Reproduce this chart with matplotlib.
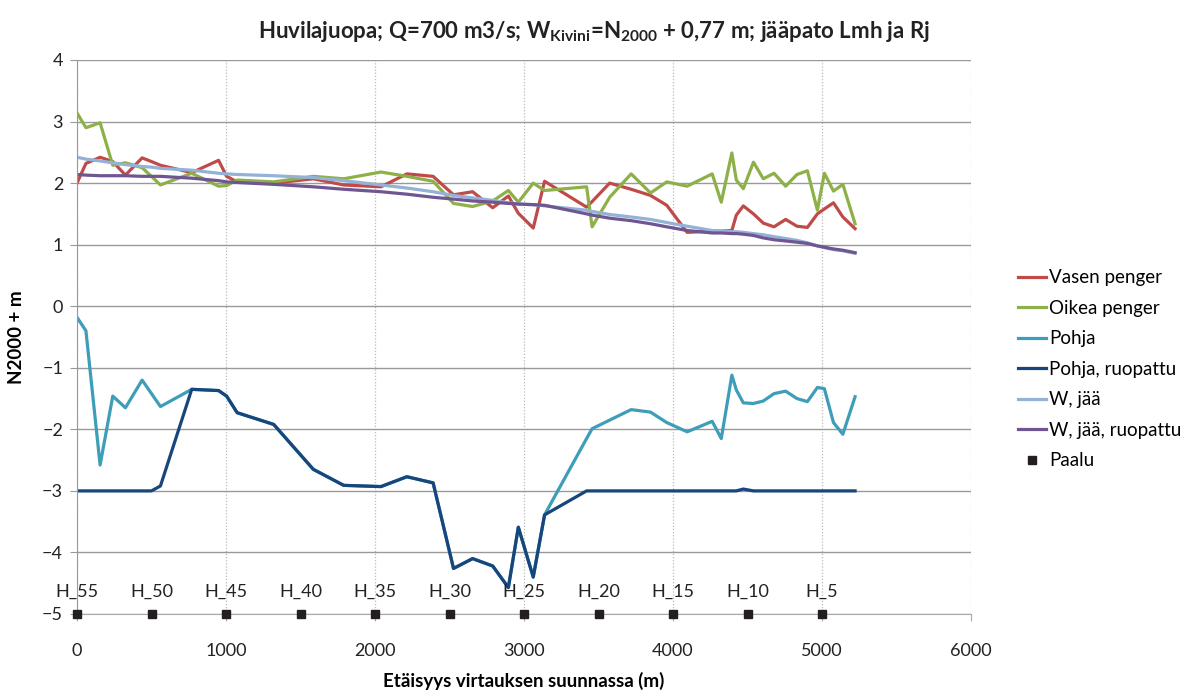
import matplotlib
matplotlib.use("Agg")
import matplotlib.pyplot as plt

plt.rcParams['font.family'] = ['Lato', 'DejaVu Sans']
plt.rcParams['mathtext.fontset'] = 'custom'
plt.rcParams['mathtext.rm'] = 'Lato'
plt.rcParams['mathtext.bf'] = 'Lato:bold'

# Distance along flow (m)
distance = [0, 60, 155, 240, 325, 437, 500, 560, 770, 950, 1004, 1075, 1320, 1586, 1790,
            2040, 2214, 2390, 2527, 2655, 2790, 2895, 2962, 3062, 3138, 3420, 3457, 3575,
            3719, 3849, 3958, 4095, 4263, 4324, 4395, 4425, 4472, 4540, 4606, 4678, 4756,
            4832, 4902, 4969, 5016, 5077, 5140, 5222]

vasen_penger = [2.00, 2.32, 2.42, 2.35, 2.13, 2.41, 2.35, 2.29, 2.17, 2.37, 2.11, 2.02, 2.00,
                2.07, 1.97, 1.94, 2.15, 2.11, 1.81, 1.86, 1.60, 1.79, 1.51, 1.27, 2.03, 1.61,
                1.70, 2.00, 1.90, 1.80, 1.64, 1.20, 1.22, 1.22, 1.23, 1.48, 1.63, 1.50, 1.35,
                1.29, 1.41, 1.30, 1.28, 1.50, 1.58, 1.68, 1.45, 1.26]

oikea_penger = [3.14, 2.90, 2.98, 2.29, 2.33, 2.25, 2.11, 1.97, 2.16, 1.95, 1.96, 2.05, 2.02,
                2.11, 2.07, 2.18, 2.11, 2.03, 1.67, 1.62, 1.71, 1.88, 1.69, 2.00, 1.88, 1.94,
                1.29, 1.77, 2.15, 1.84, 2.02, 1.95, 2.15, 1.69, 2.49, 2.05, 1.91, 2.34, 2.07,
                2.16, 1.95, 2.14, 2.20, 1.56, 2.16, 1.87, 1.98, 1.34]

pohja = [-0.18, -0.40, -2.58, -1.46, -1.65, -1.20, -1.42, -1.63, -1.35, -1.37, -1.46, -1.73,
         -1.92, -2.65, -2.91, -2.93, -2.77, -2.87, -4.26, -4.10, -4.22, -4.57, -3.59, -4.40,
         -3.39, -2.15, -1.99, -1.85, -1.68, -1.72, -1.89, -2.04, -1.87, -2.15, -1.12, -1.36,
         -1.57, -1.58, -1.54, -1.42, -1.38, -1.50, -1.55, -1.32, -1.34, -1.89, -2.08, -1.47]

pohja_ruopattu = [-3.00, -3.00, -3.00, -3.00, -3.00, -3.00, -3.00, -2.92, -1.35, -1.37, -1.46,
                  -1.73, -1.92, -2.65, -2.91, -2.93, -2.77, -2.87, -4.26, -4.10, -4.22, -4.57,
                  -3.59, -4.40, -3.39, -3.00, -3.00, -3.00, -3.00, -3.00, -3.00, -3.00, -3.00,
                  -3.00, -3.00, -3.00, -2.97, -3.00, -3.00, -3.00, -3.00, -3.00, -3.00, -3.00,
                  -3.00, -3.00, -3.00, -3.00]

w_jaa = [2.42, 2.39, 2.36, 2.33, 2.30, 2.27, 2.26, 2.24, 2.21, 2.16, 2.15, 2.14, 2.12, 2.09,
         2.04, 1.97, 1.92, 1.86, 1.80, 1.76, 1.72, 1.68, 1.66, 1.65, 1.63, 1.56, 1.54, 1.49,
         1.45, 1.41, 1.36, 1.30, 1.23, 1.22, 1.21, 1.21, 1.20, 1.18, 1.16, 1.13, 1.10, 1.07,
         1.03, 0.98, 0.95, 0.92, 0.90, 0.86]

w_jaa_ruopattu = [2.14, 2.13, 2.12, 2.12, 2.12, 2.11, 2.11, 2.11, 2.08, 2.04, 2.02, 2.01, 1.98,
                  1.94, 1.90, 1.86, 1.82, 1.77, 1.74, 1.71, 1.69, 1.67, 1.66, 1.65, 1.64, 1.50,
                  1.48, 1.43, 1.39, 1.34, 1.29, 1.23, 1.19, 1.19, 1.18, 1.18, 1.17, 1.15, 1.11,
                  1.08, 1.06, 1.04, 1.02, 0.98, 0.96, 0.93, 0.91, 0.87]

paalu_x = [0, 500, 1000, 1500, 2000, 2500, 3000, 3500, 4000, 4500, 5000]
paalu_y = [-5, -5, -5, -5, -5, -5, -5, -5, -5, -5, -5]
paalu_labels = ["H_55", "H_50", "H_45", "H_40", "H_35", "H_30", "H_25", "H_20", "H_15", "H_10", "H_5"]

fig = plt.figure(figsize=(11.83, 6.93), dpi=100)
ax = fig.add_axes([77 / 1183, 1 - 614 / 693, (971 - 77) / 1183, (614 - 60) / 693])

lw = 2.3
ax.plot(distance, vasen_penger, color="#BE4B48", lw=lw, label="Vasen penger")
ax.plot(distance, oikea_penger, color="#8DB048", lw=lw, label="Oikea penger")
ax.plot(distance, pohja, color="#3E9DB8", lw=lw, label="Pohja")
ax.plot(distance, pohja_ruopattu, color="#17467C", lw=lw, label="Pohja, ruopattu")
ax.plot(distance, w_jaa, color="#94B1D8", lw=lw, label="W, jää")
ax.plot(distance, w_jaa_ruopattu, color="#6F5592", lw=lw, label="W, jää, ruopattu")
ax.plot(paalu_x, paalu_y, linestyle="none", marker="s", markersize=6, color="#231F20",
        label="Paalu", clip_on=False, zorder=5)
for xv, yv, lab in zip(paalu_x, paalu_y, paalu_labels):
    ax.annotate(lab, (xv, yv), xytext=(0, 10), textcoords="offset points", ha="center",
                va="bottom", fontsize=13, color="#222222")

ax.set_xlim(0, 6000)
ax.set_ylim(-5, 4)
ax.set_xticks(range(0, 6001, 1000))
ax.set_yticks(range(-5, 5))
ax.yaxis.grid(True, color="#999999", lw=1, ls="-")
ax.xaxis.grid(True, color="#BBBBBB", lw=0.9, ls=(0, (1, 1.5)))
ax.set_axisbelow(True)
for s in ["top", "right"]:
    ax.spines[s].set_visible(False)
ax.spines["left"].set_color("#999999")
ax.spines["bottom"].set_color("#AAAAAA")
ax.tick_params(axis="y", length=5, color="#999999", labelsize=13, labelcolor="#222222", pad=5)
ax.tick_params(axis="x", length=5, color="#AAAAAA", labelsize=13, labelcolor="#222222", pad=16)

ax.set_xlabel("Etäisyys virtauksen suunnassa (m)", fontsize=13.5, fontweight="bold", labelpad=9)
ax.set_ylabel("N2000 + m", fontsize=13.5, fontweight="bold", labelpad=12)
fig.text(594 / 1183, 1 - 32 / 693,
         r"Huvilajuopa; Q=700 m3/s; W$_{\mathbf{Kivini}}$=N$_{\mathbf{2000}}$ + 0,77 m; jääpato Lmh ja Rj",
         ha="center", va="center", fontsize=16, fontweight="bold", color="#222222")

leg = ax.legend(loc="upper left", bbox_to_anchor=(1010 / 1183, 1 - 262 / 693),
                bbox_transform=fig.transFigure, frameon=False, fontsize=13.5,
                handlelength=1.5, handletextpad=0.2, labelspacing=0.72, borderaxespad=0)

fig.savefig("out.png", dpi=100)
